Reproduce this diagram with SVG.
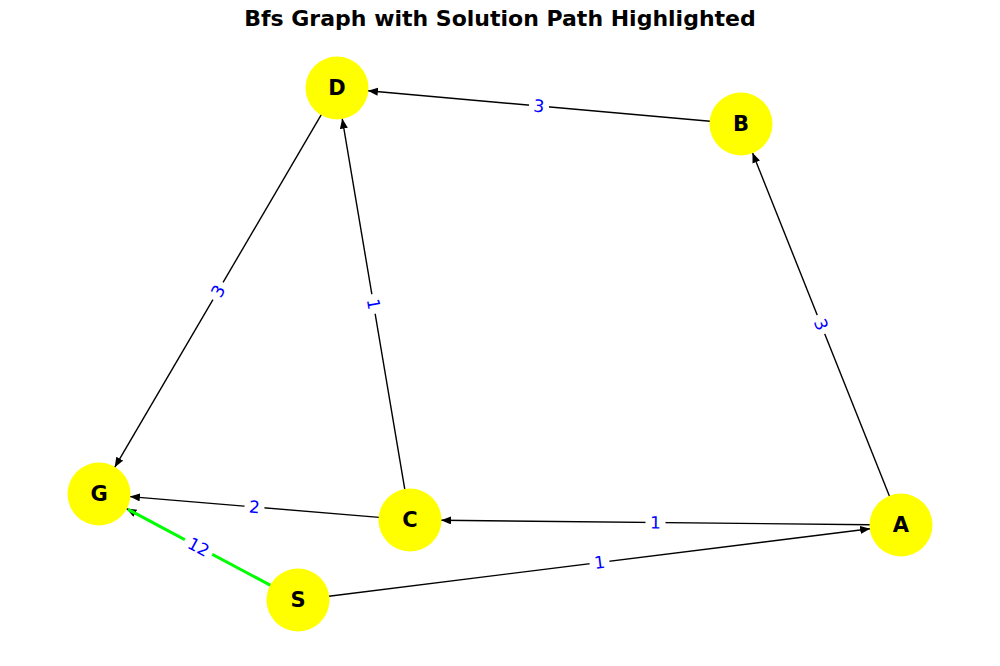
<svg xmlns="http://www.w3.org/2000/svg" width="1000" height="666" viewBox="0 0 1000 666">
  <style>
    .edge { stroke: #000; stroke-width: 1.4; fill: none; }
    .path { stroke: #00ff00; stroke-width: 3; fill: none; }
    .node circle { fill: #ffff00; }
    .node text { font-family: "DejaVu Sans", sans-serif; font-weight: bold; font-size: 21px; text-anchor: middle; dominant-baseline: central; fill: #000; }
    .elabel rect { fill: #fff; }
    .elabel text { font-family: "DejaVu Sans", sans-serif; font-size: 17px; text-anchor: middle; dominant-baseline: central; fill: #0000ff; }
    .title { font-family: "DejaVu Sans", sans-serif; font-weight: bold; font-size: 22px; text-anchor: middle; fill: #000; }
  </style>
  <defs>
    <marker id="arrow" markerUnits="userSpaceOnUse" markerWidth="12" markerHeight="10" refX="10" refY="4" orient="auto">
      <path d="M0,0 L10,4 L0,8 Z" fill="#000"/>
    </marker>
  </defs>
  <rect width="1000" height="666" fill="#fff"/>
  <text class="title" x="500" y="26">Bfs Graph with Solution Path Highlighted</text>

  <g id="edges">
    <line class="edge" x1="710.1" y1="121.2" x2="367.9" y2="90.8" marker-end="url(#arrow)"/>
    <line class="edge" x1="321.3" y1="114.7" x2="114.7" y2="467.3" marker-end="url(#arrow)"/>
    <line class="edge" x1="404.8" y1="489.4" x2="342.2" y2="118.6" marker-end="url(#arrow)"/>
    <line class="edge" x1="889.5" y1="496.2" x2="752.5" y2="152.8" marker-end="url(#arrow)"/>
    <line class="edge" x1="870" y1="524.7" x2="441" y2="520.3" marker-end="url(#arrow)"/>
    <line class="edge" x1="328.8" y1="596.2" x2="870.2" y2="528.8" marker-end="url(#arrow)"/>
    <line class="edge" x1="379.1" y1="517.4" x2="129.9" y2="496.6" marker-end="url(#arrow)"/>
    <line class="edge" x1="270.6" y1="585.4" x2="126.4" y2="508.6" marker-end="url(#arrow)"/>
    <!-- solution path S to G -->
    <line class="path" x1="270.6" y1="585.4" x2="128" y2="509.4"/>
  </g>

  <g id="edge-labels">
    <g class="elabel" transform="translate(539,106) rotate(5.1)"><rect x="-10" y="-9" width="20" height="18"/><text>3</text></g>
    <g class="elabel" transform="translate(218,291) rotate(-59.6)"><rect x="-10" y="-9" width="20" height="18"/><text>3</text></g>
    <g class="elabel" transform="translate(373.5,304) rotate(80.4)"><rect x="-10" y="-9" width="20" height="18"/><text>1</text></g>
    <g class="elabel" transform="translate(821,324.5) rotate(68.2)"><rect x="-10" y="-9" width="20" height="18"/><text>3</text></g>
    <g class="elabel" transform="translate(655.5,522.5) rotate(0.6)"><rect x="-10" y="-9" width="20" height="18"/><text>1</text></g>
    <g class="elabel" transform="translate(599.5,562.5) rotate(-7.1)"><rect x="-10" y="-9" width="20" height="18"/><text>1</text></g>
    <g class="elabel" transform="translate(254.5,507) rotate(4.8)"><rect x="-10" y="-9" width="20" height="18"/><text>2</text></g>
    <g class="elabel" transform="translate(198.5,547) rotate(28.1)"><rect x="-15.5" y="-9" width="31" height="18"/><text>12</text></g>
  </g>

  <g id="node-D" class="node"><circle cx="337" cy="88" r="31.5"/><text x="337" y="88">D</text></g>
  <g id="node-B" class="node"><circle cx="741" cy="124" r="31.5"/><text x="741" y="124">B</text></g>
  <g id="node-G" class="node"><circle cx="99" cy="494" r="31.5"/><text x="99" y="494">G</text></g>
  <g id="node-C" class="node"><circle cx="410" cy="520" r="31.5"/><text x="410" y="520">C</text></g>
  <g id="node-A" class="node"><circle cx="901" cy="525" r="31.5"/><text x="901" y="525">A</text></g>
  <g id="node-S" class="node"><circle cx="298" cy="600" r="31.5"/><text x="298" y="600">S</text></g>
</svg>
